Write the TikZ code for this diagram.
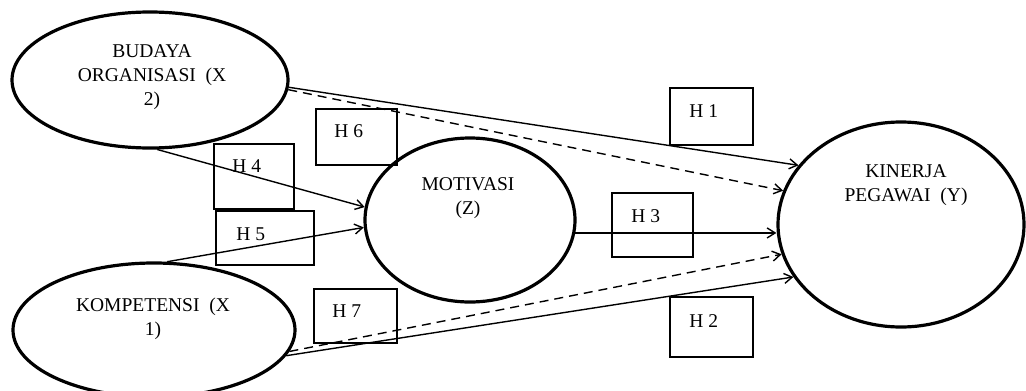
\documentclass[tikz,border=0pt]{standalone}
\usepackage{fontspec}
\setmainfont{Liberation Serif}
\usetikzlibrary{shapes.geometric,arrows.meta}
\begin{document}
\begin{tikzpicture}[x=1pt,y=-1pt,
  ell/.style={ellipse, draw, line width=3.2pt, inner sep=0pt},
  hbox/.style={rectangle, draw, line width=1.8pt, inner sep=0pt},
  lbl/.style={font=\fontsize{19.5}{24}\selectfont, align=center, inner sep=0pt},
  conn/.style={line width=1.4pt, -{Straight Barb[length=8pt,width=10pt]}},
  dconn/.style={conn, dash pattern=on 9pt off 6pt},
]
\useasboundingbox (0,0) rectangle (1026,391);

% ellipses
\node[ell, minimum width=276pt, minimum height=136pt] (bud) at (150,80) {};
\node[ell, minimum width=282pt, minimum height=134pt] (komp) at (154,330) {};
\node[ell, minimum width=210pt, minimum height=164pt] (mot) at (470,220) {};
\node[ell, minimum width=246pt, minimum height=205pt] (kin) at (901,224.5) {};

% ellipse texts
\node[lbl] (tbud) at (152,77.5) {BUDAYA\\ORGANISASI~~(X\\2)};
\node[lbl] (tkomp) at (153,318.5) {KOMPETENSI~~(X\\1)};
\node[lbl] (tmot) at (468,198.5) {MOTIVASI\\(Z)};
\node[lbl] (tkin) at (906,185) {KINERJA\\PEGAWAI~~(Y)};

% hypothesis boxes
\node[hbox, minimum width=83pt, minimum height=57pt] (b1) at (711.5,116.5) {};
\node[hbox, minimum width=83pt, minimum height=60pt] (b2) at (711.5,327) {};
\node[hbox, minimum width=81pt, minimum height=64pt] (b3) at (652.5,225) {};
\node[hbox, minimum width=80pt, minimum height=65pt] (b4) at (254,176.5) {};
\node[hbox, minimum width=98pt, minimum height=54pt] (b5) at (265,238) {};
\node[hbox, minimum width=81pt, minimum height=56pt] (b6) at (356.5,137) {};
\node[hbox, minimum width=83pt, minimum height=54pt] (b7) at (355.5,316) {};

\node[lbl, anchor=west] (t1) at ([xshift=20pt,yshift=-24pt]b1.north west) {H 1};
\node[lbl, anchor=west] (t2) at ([xshift=20pt,yshift=-25pt]b2.north west) {H 2};
\node[lbl, anchor=west] (t3) at ([xshift=20pt,yshift=-24pt]b3.north west) {H 3};
\node[lbl, anchor=west] (t4) at ([xshift=19pt,yshift=-23pt]b4.north west) {H 4};
\node[lbl, anchor=west] (t5) at ([xshift=21pt,yshift=-24pt]b5.north west) {H 5};
\node[lbl, anchor=west] (t6) at ([xshift=19pt,yshift=-23pt]b6.north west) {H 6};
\node[lbl, anchor=west] (t7) at ([xshift=19pt,yshift=-23pt]b7.north west) {H 7};

% connectors
\draw[conn] (bud.-3) -- (kin.150);
\draw[dconn] (bud.-4.5) -- (kin.164.6);
\draw[conn] (bud.-84.2) -- (mot.173.6);
\draw[conn] (komp.79) -- (mot.184.3);
\draw[conn] (mot.-7) -- (mot.-7 -| kin.west);
\draw[dconn] (komp.-9.3) -- (kin.194.5);
\draw[conn] (komp.-11.1) -- (kin.206.4);
\end{tikzpicture}
\end{document}
